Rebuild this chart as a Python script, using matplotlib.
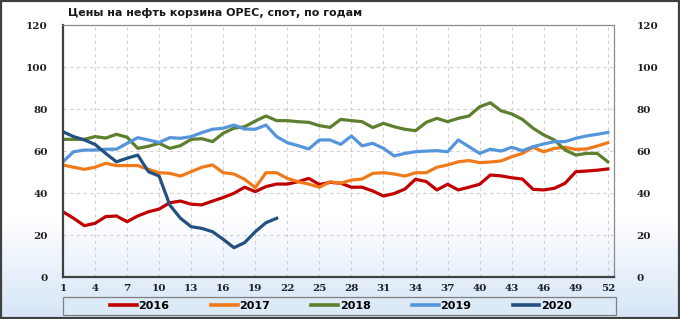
import numpy as np
import matplotlib.pyplot as plt
from matplotlib.colors import LinearSegmentedColormap

weeks = list(range(1, 53))
xticks = list(range(1, 53, 3))
yticks = [0, 20, 40, 60, 80, 100, 120]

y2016 = [31.2, 28.1, 24.6, 25.7, 28.9, 29.2, 26.5, 29.2, 31.2, 32.5,
         35.5, 36.3, 34.8, 34.5, 36.3, 38.0, 40.0, 42.9, 40.8, 43.2,
         44.4, 44.4, 45.5, 47.1, 44.2, 45.2, 44.8, 42.9, 42.9, 41.1,
         38.7, 39.9, 42.0, 46.7, 45.6, 41.6, 44.3, 41.6, 42.9, 44.3,
         48.7, 48.3, 47.4, 46.8, 41.9, 41.6, 42.4, 44.8, 50.3, 50.6,
         51.0, 51.6]
y2017 = [53.5, 52.4, 51.4, 52.4, 54.3, 53.2, 53.2, 53.2, 51.4, 49.8,
         49.5, 48.2, 50.3, 52.4, 53.5, 49.8, 49.2, 46.7, 42.7, 49.8,
         49.8, 47.1, 45.5, 44.4, 42.9, 45.5, 44.8, 46.3, 46.8, 49.5,
         49.8, 49.2, 48.2, 49.8, 49.8, 52.4, 53.5, 55.0, 55.6, 54.6,
         54.9, 55.4, 57.4, 59.0, 61.9, 59.8, 61.4, 61.9, 60.9, 61.1,
         62.5, 64.1]
y2018 = [65.7, 65.7, 65.7, 67.0, 66.3, 68.1, 66.7, 61.4, 62.4, 63.8,
         61.4, 62.7, 65.7, 66.0, 64.6, 68.6, 71.0, 71.7, 74.4, 76.8,
         74.6, 74.6, 74.1, 73.8, 72.2, 71.4, 75.2, 74.6, 74.1, 71.3,
         73.3, 71.7, 70.5, 69.8, 73.8, 75.7, 74.1, 75.7, 76.8, 81.2,
         83.1, 79.3, 77.8, 75.2, 71.0, 67.8, 65.4, 60.6, 58.2, 59.0,
         59.0, 55.0]
y2019 = [55.0, 59.8, 60.6, 60.6, 61.0, 61.0, 63.8, 66.5, 65.4, 64.2,
         66.5, 66.2, 67.0, 68.9, 70.5, 71.0, 72.5, 70.6, 70.5, 72.5,
         67.0, 64.1, 62.7, 61.1, 65.4, 65.4, 63.3, 67.3, 62.6, 63.8,
         61.4, 57.8, 59.0, 59.8, 60.1, 60.3, 59.8, 65.4, 62.2, 59.0,
         61.0, 60.1, 61.9, 60.3, 62.2, 63.5, 64.6, 64.6, 66.2, 67.3,
         68.1, 69.0]
y2020 = [69.3, 67.0, 65.4, 63.3, 59.0, 55.0, 56.7, 58.2, 50.3, 48.2,
         34.4, 28.1, 24.1, 23.3, 21.7, 18.1, 14.1, 16.5, 21.7, 26.0,
         28.1]

series = [
    ("2016", y2016, "#C00000"),
    ("2017", y2017, "#F07A1A"),
    ("2018", y2018, "#5E7F2E"),
    ("2019", y2019, "#5595DC"),
    ("2020", y2020, "#24507F"),
]

fig = plt.figure(figsize=(6.8, 3.19), dpi=100)

# фон: градиент от белого к светло-голубому внизу
bg = fig.add_axes([0, 0, 1, 1], zorder=-10)
cmap = LinearSegmentedColormap.from_list("bg", [(0, "#D5E5F7"), (0.32, "#FFFFFF"), (1, "#FFFFFF")])
grad = np.linspace(0, 1, 256).reshape(-1, 1)
bg.imshow(grad, aspect="auto", cmap=cmap, origin="lower", extent=[0, 1, 0, 1])
bg.set_xlim(0, 1)
bg.set_ylim(0, 1)
bg.set_axis_off()
bg.add_patch(plt.Rectangle((0.0015, 0.003), 0.997, 0.994, fill=False,
                           edgecolor="#404040", linewidth=1.6))
# рамка легенды
bg.add_patch(plt.Rectangle((63 / 680, 1 - 315 / 319), 553 / 680, 18 / 319,
                           facecolor="#DCE9F7", edgecolor="#7F7F7F", linewidth=0.9))

ax = fig.add_axes([0.0926, 0.1307, 0.8104, 0.79])
ax.patch.set_alpha(0)

for name, vals, color in series:
    ax.plot(weeks[:len(vals)], vals, color=color, linewidth=2.3, label=name)

ax.set_xlim(1, 52.58)
ax.set_ylim(0, 120)
ax.set_xticks(xticks)
ax.set_yticks(yticks)
ax.grid(True, color="#D0D0D0", linestyle=(0, (3, 3)), linewidth=0.8)
ax.set_axisbelow(True)
ax.tick_params(length=0)
ax.tick_params(axis="x", pad=4.5)
ax.tick_params(axis="y", pad=11)
for lab in ax.get_xticklabels() + ax.get_yticklabels():
    lab.set_fontfamily("DejaVu Serif")
    lab.set_fontweight("bold")
    lab.set_fontsize(7.5)
    lab.set_color("#202020")
for s in ("left", "bottom"):
    ax.spines[s].set_color("#404040")
    ax.spines[s].set_linewidth(1.6)
for s in ("top", "right"):
    ax.spines[s].set_color("#8C8C8C")
    ax.spines[s].set_linewidth(0.9)

ax2 = ax.twinx()
ax2.set_ylim(0, 120)
ax2.set_yticks(yticks)
ax2.tick_params(length=0, pad=16)
for lab in ax2.get_yticklabels():
    lab.set_fontfamily("DejaVu Serif")
    lab.set_fontweight("bold")
    lab.set_fontsize(7.5)
    lab.set_color("#202020")
for s in ax2.spines.values():
    s.set_visible(False)

fig.text(0.1, 0.958, "Цены на нефть корзина OPEC, спот, по годам",
         fontsize=8, fontweight="bold", color="#1A1A1A", va="center")

leg = ax.legend(loc="center", bbox_to_anchor=(0.5015, 1 - 306 / 319),
                bbox_transform=fig.transFigure, ncol=5, frameon=False,
                handlelength=2.4, handletextpad=0.15, columnspacing=3.72,
                borderpad=0.0, prop={"weight": "bold", "size": 8})
for line in leg.get_lines():
    line.set_linewidth(2.6)

fig.savefig("out.png", dpi=100)
